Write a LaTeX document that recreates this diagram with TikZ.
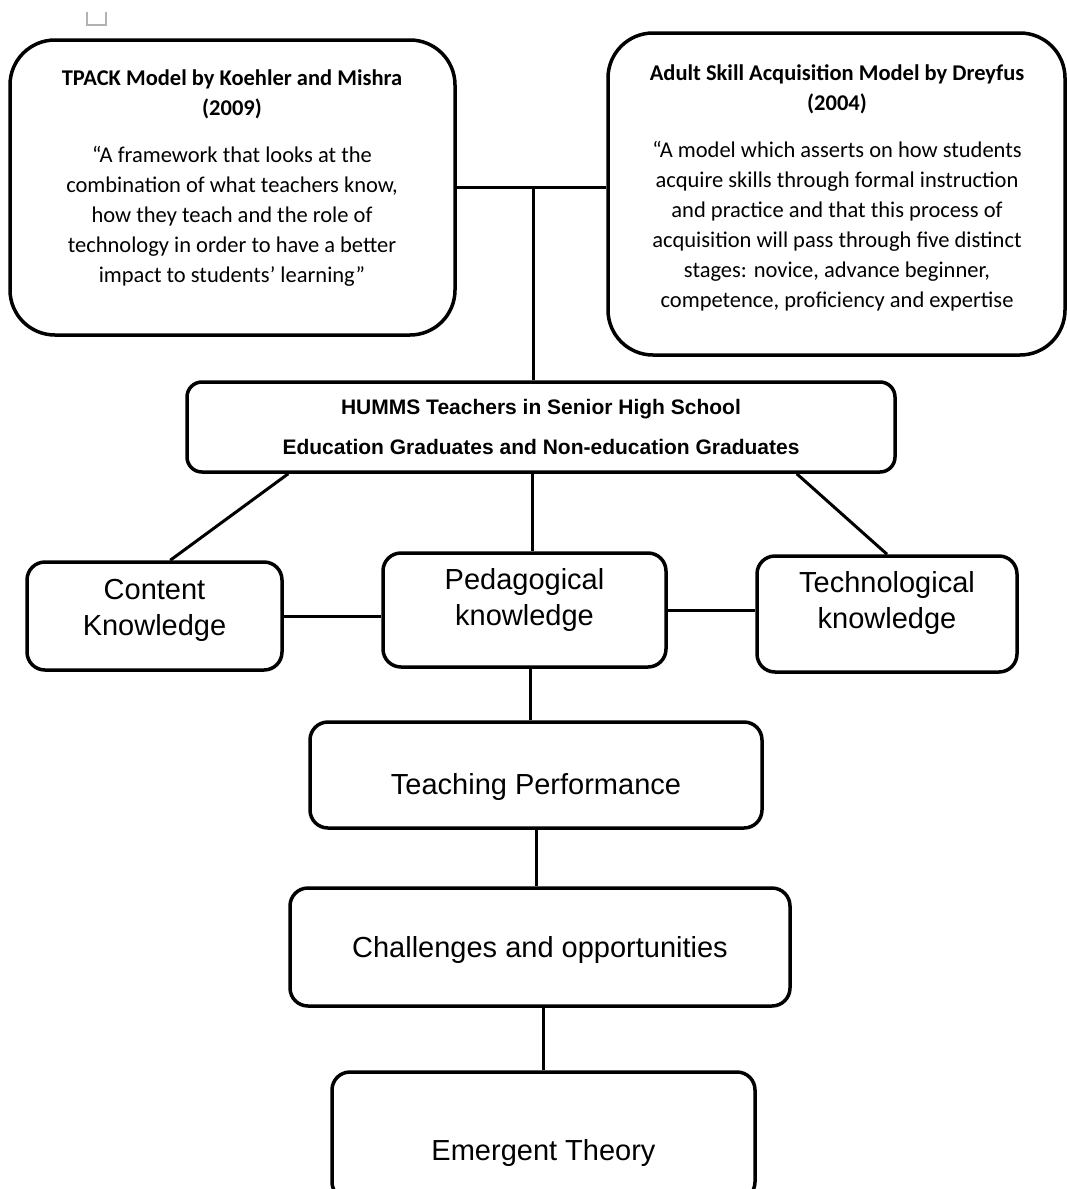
\documentclass[tikz,border=0pt]{standalone}
\usepackage{fontspec}
\setmainfont{Liberation Sans}
\newfontfamily\calfont{Carlito}
\begin{document}
\begin{tikzpicture}[x=1pt,y=-1pt,
        bigbox/.style={draw, line width=3.5pt, rounded corners=45pt},
        box/.style={draw, line width=3.5pt, rounded corners=18pt},
        quote/.style={align=center, inner sep=0pt, font=\calfont\fontsize{22.5}{30}\selectfont},
        lbl/.style={align=center, inner sep=0pt, font=\fontsize{29}{36}\selectfont},
        link/.style={line width=3pt}]
        \useasboundingbox (0,0) rectangle (1067,1189);
        \draw[gray!60, line width=1.2pt] (87,12) |- (106,25) -- (106,12);

        % the two models
        \node[bigbox, minimum width=445pt, minimum height=295pt] (tpack) at (232.5,187.5) {};
        \node[quote, anchor=north] (tpacktxt) at (232,70) {\textbf{TPACK Model by Koehler and Mishra}\\ \textbf{(2009)}\\[17pt]
            “A framework that looks at the\\ combination of what teachers know,\\ how they teach and the role of\\
            technology in order to have a better\\ impact to students’ learning”};
        \node[bigbox, minimum width=457pt, minimum height=322pt] (dreyfus) at (836.5,194) {};
        \node[quote, anchor=north] (dreyfustxt) at (837,64) {\textbf{Adult Skill Acquisition Model by Dreyfus}\\ \textbf{(2004)}\\[17pt]
            “A model which asserts on how students\\ acquire skills through formal instruction\\ and practice and that this process of\\
            acquisition will pass through five distinct\\ stages: novice, advance beginner,\\ competence, proficiency and expertise};

        % teachers
        \node[box, rounded corners=15pt, minimum width=708pt, minimum height=90pt, align=center,
            font=\bfseries\fontsize{21}{40}\selectfont] (humms) at (541,427)
            {HUMMS Teachers in Senior High School\\ Education Graduates and Non-education Graduates};

        % knowledge
        \node[box, minimum width=255pt, minimum height=108pt] (content) at (154.5,616) {};
        \node[lbl] (contenttxt) at ([yshift=6pt]content.center) {Content\\ Knowledge};
        \node[box, minimum width=283pt, minimum height=114pt] (ped) at (524.5,610) {};
        \node[lbl] (pedtxt) at ([yshift=10pt]ped.center) {Pedagogical\\ knowledge};
        \node[box, minimum width=260pt, minimum height=116pt] (tech) at (887,614) {};
        \node[lbl] (techtxt) at ([yshift=11pt]tech.center) {Technological\\ knowledge};

        % the chain below
        \node[box, minimum width=452pt, minimum height=106pt] (teach) at (536,775) {};
        \node[lbl] (teachtxt) at ([yshift=-12pt]teach.center) {Teaching Performance};
        \node[box, minimum width=500pt, minimum height=118pt] (chal) at (540,947) {};
        \node[lbl] (chaltxt) at ([yshift=-3pt]chal.center) {Challenges and opportunities};
        \node[box, minimum width=423pt, minimum height=128pt] (emerg) at (543.5,1136) {};
        \node[lbl] (emergtxt) at ([yshift=-17pt]emerg.center) {Emergent Theory};

        % connectors
        \coordinate (jn) at ([xshift=77pt]tpack.east);
        \draw[link] (tpack.east) -- (tpack.east -| dreyfus.west);
        \draw[link] (jn) -- (jn |- humms.north);
        \draw[link] ([xshift=103pt]humms.south west) -- ([xshift=145pt]content.north west);
        \draw[link] ([xshift=8pt]ped.north) -- ([xshift=8pt]ped.north |- humms.south);
        \draw[link] ([xshift=-100pt]humms.south east) -- (tech.north);
        \draw[link] (content.east) -- (content.east -| ped.west);
        \draw[link] (ped.east) -- (ped.east -| tech.west);
        \draw[link] ([xshift=-6pt]teach.north) -- ([xshift=-6pt]teach.north |- ped.south);
        \draw[link] (teach.south) -- (teach.south |- chal.north);
        \draw[link] (emerg.north) -- (emerg.north |- chal.south);
    \end{tikzpicture}
\end{document}
